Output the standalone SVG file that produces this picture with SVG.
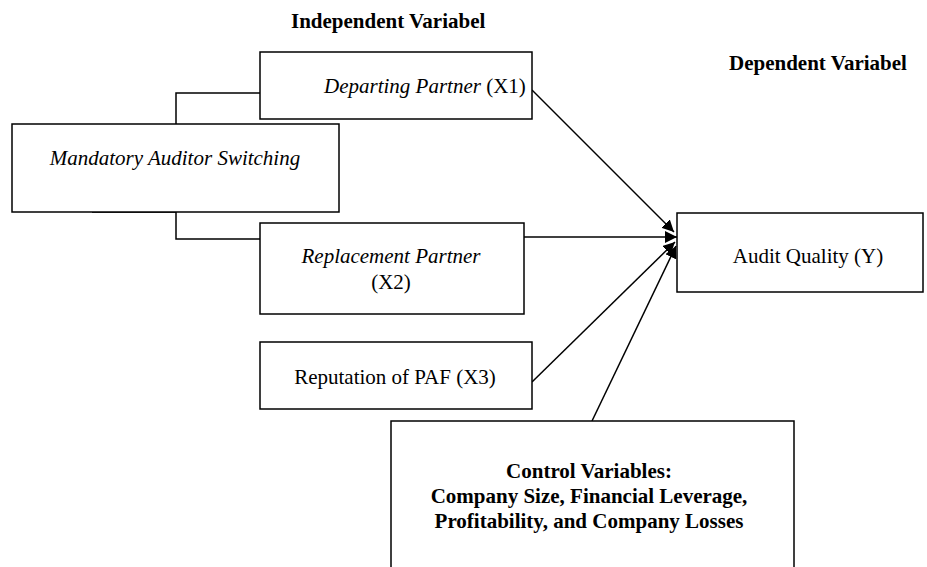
<svg xmlns="http://www.w3.org/2000/svg" width="927" height="567" viewBox="0 0 927 567">
<style>
.box{fill:#fff;stroke:#000;stroke-width:1.5}
.t{font-family:"Liberation Serif","Times New Roman",serif;font-size:21px;fill:#000}
.b{font-weight:bold}
.i{font-style:italic}
.ln{fill:none;stroke:#000;stroke-width:1.5}
</style>
<defs>
<marker id="ah" viewBox="0 0 10 10" refX="10" refY="5" markerWidth="12" markerHeight="12" markerUnits="userSpaceOnUse" orient="auto">
<path d="M0,0 L10,5 L0,10 z" fill="#000"/>
</marker>
</defs>
<rect width="927" height="567" fill="#fff"/>
<text class="t b" x="291" y="28" font-size="20">Independent Variabel</text>
<text class="t b" x="729" y="70" font-size="20">Dependent Variabel</text>
<g id="connectors">
<polyline class="ln" points="176,124 176,93 260,93"/>
<polyline class="ln" points="92,212 176,212 176,239 260,239"/>
<line class="ln" x1="532" y1="90" x2="674" y2="232" marker-end="url(#ah)"/>
<line class="ln" x1="524" y1="237" x2="677" y2="237" marker-end="url(#ah)"/>
<line class="ln" x1="532" y1="382" x2="675" y2="242" marker-end="url(#ah)"/>
<line class="ln" x1="592" y1="421" x2="676" y2="246" marker-end="url(#ah)"/>
</g>
<g id="departing">
<rect class="box" x="260" y="52" width="272" height="67"/>
<text class="t" x="324" y="93"><tspan class="i">Departing Partner</tspan> (X1)</text>
</g>
<g id="mandatory">
<rect class="box" x="12" y="124" width="327" height="88"/>
<text class="t i" x="175" y="165" text-anchor="middle">Mandatory Auditor Switching</text>
</g>
<g id="replacement">
<rect class="box" x="260" y="223" width="264" height="91"/>
<text class="t" x="391" y="263" text-anchor="middle"><tspan class="i">Replacement Partner</tspan><tspan x="391" dy="26">(X2)</tspan></text>
</g>
<g id="reputation">
<rect class="box" x="260" y="342" width="272" height="67"/>
<text class="t" x="395" y="384" text-anchor="middle">Reputation of PAF (X3)</text>
</g>
<g id="audit">
<rect class="box" x="677" y="213" width="246" height="79"/>
<text class="t" x="808" y="263" text-anchor="middle">Audit Quality (Y)</text>
</g>
<g id="control">
<rect class="box" x="391" y="421" width="403" height="160"/>
<text class="t b" x="589" y="478" text-anchor="middle">Control Variables:<tspan x="589" dy="25">Company Size, Financial Leverage,</tspan><tspan x="589" dy="25">Profitability, and Company Losses</tspan></text>
</g>
</svg>
